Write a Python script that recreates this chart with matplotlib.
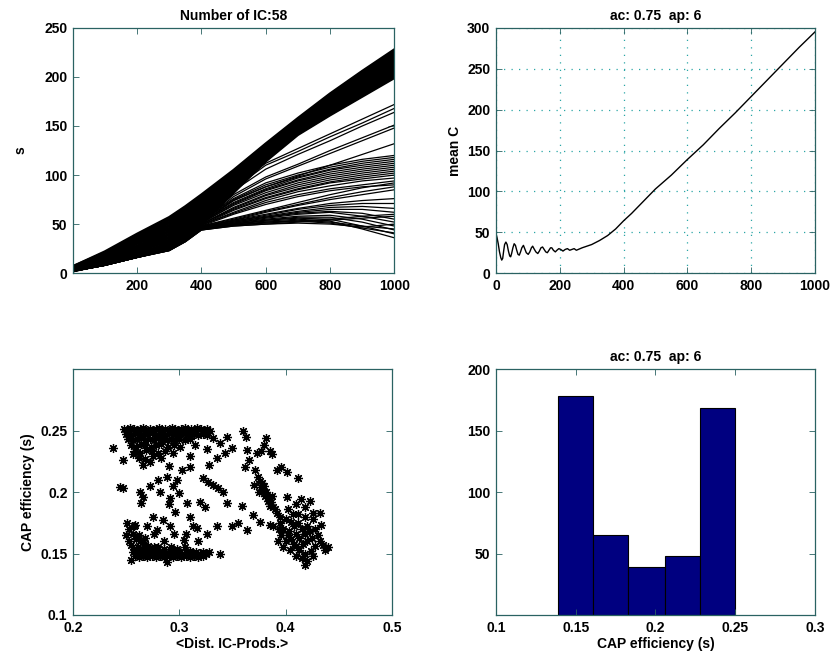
import matplotlib
matplotlib.use('Agg')
import matplotlib.pyplot as plt

plt.rcParams['font.family'] = ['Liberation Sans', 'DejaVu Sans']

# ---------------- top-left: s vs time, 58 IC curves ----------------
t_knots = [1, 100, 200, 300, 350, 400, 500, 600, 700, 800, 900, 1000]
band_curves = [
    [2, 9, 18, 28, 38, 50, 82, 114, 141, 161, 180, 199],
    [2, 10, 19, 30, 40, 52, 83, 115, 142, 162, 181, 201],
    [3, 10, 20, 31, 41, 53, 84, 116, 143, 163, 183, 202],
    [3, 11, 22, 33, 43, 55, 86, 117, 144, 165, 184, 204],
    [3, 12, 23, 34, 44, 56, 87, 118, 145, 166, 186, 205],
    [3, 12, 24, 36, 46, 58, 88, 119, 146, 167, 187, 207],
    [4, 13, 25, 37, 48, 60, 89, 120, 146, 168, 188, 208],
    [4, 14, 26, 39, 49, 61, 91, 121, 147, 169, 190, 210],
    [4, 15, 27, 40, 51, 63, 92, 122, 148, 170, 191, 211],
    [4, 15, 28, 42, 52, 64, 93, 123, 149, 171, 192, 213],
    [5, 16, 30, 43, 54, 66, 94, 124, 150, 173, 194, 214],
    [5, 17, 31, 45, 55, 67, 95, 124, 151, 174, 195, 216],
    [5, 17, 32, 46, 57, 69, 97, 125, 152, 175, 196, 217],
    [5, 18, 33, 48, 59, 71, 98, 126, 153, 176, 198, 219],
    [6, 19, 34, 49, 60, 72, 99, 127, 154, 177, 199, 220],
    [6, 19, 35, 51, 62, 74, 100, 128, 154, 178, 201, 222],
    [6, 20, 37, 52, 63, 75, 101, 129, 155, 180, 202, 223],
    [6, 21, 38, 54, 65, 77, 103, 130, 156, 181, 203, 225],
    [7, 21, 39, 55, 66, 78, 104, 131, 157, 182, 205, 226],
    [7, 22, 40, 57, 68, 80, 105, 132, 158, 183, 206, 228],
]
upper_branch_curves = [
    [3, 12, 24, 36, 46, 58, 88, 112, 127, 142, 157, 172],
    [3, 11, 22, 34, 44, 56, 86, 110, 124, 139, 153, 168],
    [3, 11, 22, 33, 43, 55, 84, 106, 121, 135, 150, 164],
    [2, 10, 20, 31, 41, 53, 80, 98, 111, 125, 138, 151],
    [2, 10, 20, 30, 40, 52, 78, 96, 109, 122, 135, 148],
    [2, 9, 19, 29, 39, 51, 74, 88, 99, 110, 121, 132],
]
middle_curves = [
    [2, 10, 20, 30, 41, 54, 76, 92, 102, 110, 116, 120],
    [2, 10, 20, 30, 40, 53, 75, 90, 100, 108, 114, 118],
    [2, 10, 20, 30, 40, 53, 74, 88, 98, 106, 112, 116],
    [2, 10, 19, 29, 39, 52, 72, 86, 97, 105, 110, 114],
    [2, 9, 19, 29, 39, 52, 71, 85, 95, 103, 108, 112],
    [2, 9, 19, 29, 38, 51, 70, 84, 94, 101, 106, 110],
    [2, 9, 19, 28, 38, 51, 69, 82, 92, 99, 104, 108],
    [2, 9, 18, 28, 37, 50, 67, 80, 90, 97, 102, 106],
    [2, 9, 18, 28, 37, 50, 66, 79, 88, 95, 100, 104],
    [2, 9, 18, 27, 37, 50, 65, 77, 86, 93, 98, 102],
    [2, 9, 18, 27, 36, 49, 64, 76, 85, 92, 96, 100],
    [2, 9, 18, 27, 36, 49, 62, 74, 83, 89, 94, 97],
    [2, 9, 18, 27, 36, 49, 61, 72, 80, 86, 90, 94],
    [2, 9, 18, 26, 35, 48, 60, 70, 78, 84, 88, 90],
]
lower_curves = [
    [2, 9, 18, 26, 36, 48, 56, 64, 72, 80, 87, 92],
    [2, 9, 17, 26, 36, 48, 55, 63, 70, 77, 83, 88],
    [2, 9, 17, 26, 35, 47, 54, 62, 69, 75, 80, 85],
    [2, 9, 17, 25, 35, 47, 54, 60, 66, 71, 74, 76],
    [2, 8, 17, 25, 35, 47, 53, 59, 65, 69, 71, 71],
    [2, 8, 17, 25, 35, 47, 53, 58, 63, 67, 68, 66],
    [2, 8, 17, 25, 34, 46, 52, 57, 62, 65, 65, 62],
    [2, 8, 17, 25, 34, 46, 52, 57, 61, 63, 61, 55],
    [2, 8, 16, 24, 34, 46, 51, 56, 60, 62, 58, 52],
    [2, 8, 16, 24, 34, 46, 51, 55, 58, 59, 55, 48],
    [2, 8, 16, 24, 34, 46, 50, 54, 57, 57, 52, 44],
    [2, 8, 16, 24, 33, 45, 50, 54, 56, 55, 48, 40],
    [2, 8, 16, 24, 33, 45, 50, 53, 55, 53, 45, 36],
    [2, 8, 16, 24, 33, 45, 49, 52, 54, 52, 48, 45],
    [2, 8, 16, 23, 33, 45, 49, 52, 53, 55, 58, 60],
    [2, 8, 16, 23, 32, 44, 49, 51, 53, 51, 46, 41],
    [2, 8, 16, 23, 32, 44, 48, 50, 52, 54, 56, 58],
    [2, 8, 16, 23, 32, 44, 48, 50, 51, 50, 47, 50],
]

# ---------------- top-right: mean C ----------------
meanc_t = [0, 3, 7, 11, 15, 18, 21, 24, 27, 31, 35, 39, 43, 46, 49, 53, 57, 61,
           65, 69, 73, 77, 81, 86, 90, 95, 101, 106, 111, 115, 119, 125, 131,
           136, 141, 146, 151, 156, 161, 166, 171, 175, 180, 186, 191, 197,
           203, 210, 217, 224, 231, 238, 245, 252, 258, 270, 285, 300, 325, 350,
           375, 400, 425, 450, 475, 500, 550, 600, 650, 700, 750, 800, 850, 900,
           950, 1000]
meanc_v = [48, 44, 36, 26, 19, 16, 18, 27, 35, 38, 35, 27, 21, 20, 24, 31, 36,
           34, 28, 23, 22, 26, 31, 34, 30, 25, 23, 26, 31, 33, 30, 26, 24, 27,
           31, 32, 29, 26, 25, 28, 31, 31, 28, 26, 28, 30, 29, 27, 29, 30, 28,
           29, 30, 28, 29, 31, 33, 35, 40, 46, 54, 64, 73, 83, 93, 103, 120,
           139, 157, 177, 196, 216, 236, 256, 276, 295]

# ---------------- bottom-left: scatter ----------------
top_band_x = [0.248, 0.251, 0.254, 0.257, 0.260, 0.263, 0.266, 0.269, 0.272, 0.275,
              0.278, 0.281, 0.284, 0.287, 0.290, 0.293, 0.296, 0.299, 0.302, 0.305,
              0.308, 0.311, 0.314, 0.317, 0.320, 0.323, 0.326, 0.329,
              0.250, 0.254, 0.258, 0.262, 0.266, 0.270, 0.274, 0.278, 0.282, 0.286,
              0.290, 0.294, 0.298, 0.302, 0.306, 0.310, 0.314, 0.318, 0.322, 0.326,
              0.252, 0.256, 0.260, 0.264, 0.268, 0.272, 0.276, 0.280, 0.284, 0.288,
              0.292, 0.296, 0.300, 0.305, 0.310,
              0.255, 0.259, 0.264, 0.268, 0.273, 0.278, 0.283, 0.289, 0.295, 0.301,
              0.258, 0.263, 0.269, 0.274, 0.280, 0.287, 0.294,
              0.262, 0.268, 0.275, 0.283, 0.266, 0.272, 0.290]
top_band_y = [0.251, 0.250, 0.252, 0.251, 0.250, 0.251, 0.252, 0.250, 0.251, 0.250,
              0.251, 0.252, 0.250, 0.251, 0.250, 0.252, 0.251, 0.250, 0.251, 0.252,
              0.250, 0.251, 0.250, 0.252, 0.251, 0.250, 0.251, 0.250,
              0.247, 0.246, 0.248, 0.247, 0.246, 0.247, 0.248, 0.246, 0.247, 0.246,
              0.248, 0.247, 0.246, 0.247, 0.248, 0.246, 0.247, 0.246, 0.247, 0.246,
              0.243, 0.242, 0.243, 0.244, 0.242, 0.243, 0.242, 0.244, 0.243, 0.242,
              0.243, 0.242, 0.243, 0.242, 0.243,
              0.238, 0.237, 0.239, 0.238, 0.237, 0.238, 0.239, 0.237, 0.238, 0.237,
              0.233, 0.232, 0.234, 0.233, 0.232, 0.233, 0.232,
              0.228, 0.227, 0.229, 0.228, 0.222, 0.224, 0.221]
mid_x = [0.238, 0.247, 0.256, 0.332, 0.338, 0.345, 0.326, 0.335, 0.343, 0.328,
         0.315, 0.310, 0.303, 0.310, 0.350,
         0.244, 0.247, 0.263, 0.266, 0.264, 0.282, 0.291, 0.300, 0.298, 0.288,
         0.294, 0.290, 0.296, 0.307, 0.319, 0.324, 0.310, 0.345, 0.359, 0.322,
         0.327, 0.332, 0.336, 0.341, 0.280, 0.272,
         0.251, 0.257, 0.270, 0.279, 0.291, 0.285, 0.275, 0.295, 0.304, 0.313,
         0.317, 0.326, 0.335, 0.350, 0.364, 0.355]
mid_y = [0.236, 0.226, 0.231, 0.244, 0.240, 0.245, 0.235, 0.228, 0.232, 0.222,
         0.238, 0.229, 0.218, 0.220, 0.236,
         0.204, 0.203, 0.200, 0.196, 0.191, 0.200, 0.195, 0.199, 0.210, 0.212,
         0.205, 0.190, 0.184, 0.191, 0.192, 0.188, 0.180, 0.191, 0.189, 0.211,
         0.208, 0.206, 0.203, 0.200, 0.210, 0.205,
         0.175, 0.172, 0.172, 0.169, 0.172, 0.177, 0.180, 0.166, 0.161, 0.172,
         0.171, 0.166, 0.172, 0.172, 0.169, 0.175]
right_x = [0.360, 0.363, 0.382, 0.364, 0.373, 0.385, 0.377, 0.387, 0.362, 0.371,
           0.366, 0.392, 0.401, 0.412, 0.396, 0.380,
           0.374, 0.376, 0.378, 0.377, 0.380, 0.379, 0.382, 0.381, 0.384, 0.383,
           0.386, 0.385, 0.388, 0.390, 0.375, 0.370, 0.387, 0.392,
           0.401, 0.423, 0.410, 0.418, 0.426, 0.432, 0.395, 0.388, 0.369, 0.376,
           0.385, 0.402, 0.414,
           0.395, 0.400, 0.405, 0.398, 0.403, 0.408, 0.412, 0.415, 0.410, 0.405,
           0.400, 0.413, 0.418, 0.420, 0.423, 0.425, 0.420, 0.416, 0.410, 0.428,
           0.430, 0.432, 0.435, 0.437, 0.428, 0.424, 0.418, 0.413, 0.408, 0.402,
           0.396, 0.393, 0.440, 0.433, 0.426, 0.418, 0.412, 0.407, 0.415, 0.418,
           0.420, 0.410, 0.426, 0.404, 0.398, 0.394]
right_y = [0.250, 0.245, 0.244, 0.234, 0.232, 0.233, 0.233, 0.231, 0.220, 0.218,
           0.226, 0.218, 0.216, 0.211, 0.220, 0.238,
           0.212, 0.209, 0.207, 0.204, 0.205, 0.201, 0.200, 0.197, 0.196, 0.193,
           0.192, 0.189, 0.188, 0.186, 0.200, 0.206, 0.197, 0.183,
           0.196, 0.193, 0.190, 0.188, 0.183, 0.183, 0.180, 0.172, 0.181, 0.176,
           0.173, 0.186, 0.194,
           0.175, 0.178, 0.176, 0.170, 0.168, 0.172, 0.175, 0.170, 0.166, 0.162,
           0.160, 0.163, 0.166, 0.172, 0.168, 0.163, 0.160, 0.158, 0.156, 0.170,
           0.165, 0.160, 0.157, 0.153, 0.156, 0.152, 0.150, 0.153, 0.158, 0.165,
           0.165, 0.160, 0.155, 0.173, 0.178, 0.180, 0.182, 0.182, 0.146, 0.141,
           0.144, 0.148, 0.148, 0.153, 0.155, 0.170]
low_band_x = [0.256, 0.259, 0.262, 0.265, 0.268, 0.271, 0.274, 0.277, 0.280, 0.283,
              0.286, 0.289, 0.292, 0.295, 0.298, 0.301, 0.304, 0.307, 0.310, 0.313,
              0.316, 0.319, 0.322, 0.325, 0.328,
              0.258, 0.262, 0.266, 0.270, 0.274, 0.278, 0.282, 0.286, 0.290, 0.294,
              0.298, 0.302, 0.306, 0.310, 0.314, 0.318, 0.322,
              0.257, 0.261, 0.265, 0.270, 0.275, 0.280, 0.286, 0.292, 0.298, 0.305,
              0.253, 0.256, 0.259, 0.263, 0.267, 0.271, 0.276, 0.253, 0.255, 0.262,
              0.268, 0.258, 0.250,
              0.338, 0.288, 0.255, 0.318, 0.306, 0.286, 0.276]
low_band_y = [0.151, 0.150, 0.151, 0.152, 0.150, 0.151, 0.150, 0.152, 0.151, 0.150,
              0.151, 0.150, 0.152, 0.151, 0.150, 0.151, 0.150, 0.151, 0.152, 0.150,
              0.151, 0.150, 0.151, 0.150, 0.151,
              0.148, 0.147, 0.148, 0.147, 0.148, 0.147, 0.148, 0.147, 0.148, 0.147,
              0.148, 0.147, 0.148, 0.147, 0.148, 0.147, 0.148,
              0.154, 0.155, 0.154, 0.155, 0.154, 0.155, 0.154, 0.155, 0.154, 0.155,
              0.170, 0.166, 0.162, 0.160, 0.158, 0.156, 0.155, 0.160, 0.157, 0.165,
              0.163, 0.173, 0.165,
              0.150, 0.143, 0.145, 0.160, 0.166, 0.160, 0.166]

# ---------------- bottom-right: histogram ----------------
hist_edges = [0.139, 0.161, 0.183, 0.206, 0.228, 0.250]
hist_counts = [178, 65, 39, 48, 168]

frame = '#2a6262'
fs = 10

fig = plt.figure(figsize=(8.35, 6.63), dpi=100)
ax1 = fig.add_axes([0.0874, 0.588, 0.385, 0.370])
ax2 = fig.add_axes([0.594, 0.588, 0.382, 0.370])
ax3 = fig.add_axes([0.0874, 0.0724, 0.382, 0.371])
ax4 = fig.add_axes([0.594, 0.0724, 0.382, 0.371])


def style(ax):
    ax.tick_params(direction='in', top=True, right=True, length=4, width=0.6,
                   color=frame, labelcolor='black', labelsize=fs, pad=4)
    for s in ax.spines.values():
        s.set_color(frame)
        s.set_linewidth(0.9)
    for lab in ax.get_xticklabels() + ax.get_yticklabels():
        lab.set_fontweight('bold')


# top-left
for vals in band_curves:
    ax1.plot(t_knots, vals, color='black', lw=1.8, solid_joinstyle='round')
for group in (upper_branch_curves, middle_curves, lower_curves):
    for vals in group:
        ax1.plot(t_knots, vals, color='black', lw=0.9, solid_joinstyle='round')
ax1.set_xlim(1, 1000)
ax1.set_ylim(0, 250)
ax1.set_xticks([200, 400, 600, 800, 1000])
ax1.set_yticks([0, 50, 100, 150, 200, 250])
ax1.set_title('Number of IC:58', fontsize=fs, fontweight='bold', pad=6)
ax1.set_ylabel('s', fontsize=fs, fontweight='bold', labelpad=12)
style(ax1)

# top-right
ax2.plot(meanc_t, meanc_v, color='black', lw=1.0)
ax2.set_xlim(0, 1000)
ax2.set_ylim(0, 300)
ax2.set_xticks([0, 200, 400, 600, 800, 1000])
ax2.set_yticks([0, 50, 100, 150, 200, 250, 300])
ax2.grid(True, linestyle=(0, (1, 5)), color='#2aa6a6', linewidth=0.9)
ax2.set_title('ac: 0.75  ap: 6', fontsize=fs, fontweight='bold', pad=6)
ax2.set_ylabel('mean C', fontsize=fs, fontweight='bold', labelpad=4)
style(ax2)

# bottom-left
star = (8, 2, 0)
for xs, ys in ((top_band_x, top_band_y), (mid_x, mid_y), (right_x, right_y),
               (low_band_x, low_band_y)):
    ax3.plot(xs, ys, linestyle='none', marker=star, markersize=6.5,
             markeredgewidth=0.9, color='black')
ax3.set_xlim(0.2, 0.5)
ax3.set_ylim(0.1, 0.3)
ax3.set_xticks([0.2, 0.3, 0.4, 0.5])
ax3.set_xticklabels(['0.2', '0.3', '0.4', '0.5'])
ax3.set_yticks([0.1, 0.15, 0.2, 0.25])
ax3.set_yticklabels(['0.1', '0.15', '0.2', '0.25'])
ax3.set_xlabel('<Dist. IC-Prods.>', fontsize=fs, fontweight='bold', labelpad=2)
ax3.set_ylabel('CAP efficiency (s)', fontsize=fs, fontweight='bold', labelpad=4)
style(ax3)

# bottom-right
widths = [hist_edges[i + 1] - hist_edges[i] for i in range(len(hist_counts))]
ax4.bar(hist_edges[:-1], hist_counts, width=widths, align='edge',
        color='#000080', edgecolor='black', linewidth=0.8)
ax4.set_xlim(0.1, 0.3)
ax4.set_ylim(0, 200)
ax4.set_xticks([0.1, 0.15, 0.2, 0.25, 0.3])
ax4.set_xticklabels(['0.1', '0.15', '0.2', '0.25', '0.3'])
ax4.set_yticks([50, 100, 150, 200])
ax4.set_title('ac: 0.75  ap: 6', fontsize=fs, fontweight='bold', pad=6)
ax4.set_xlabel('CAP efficiency (s)', fontsize=fs, fontweight='bold', labelpad=2)
style(ax4)

fig.savefig('out.png', dpi=100)
